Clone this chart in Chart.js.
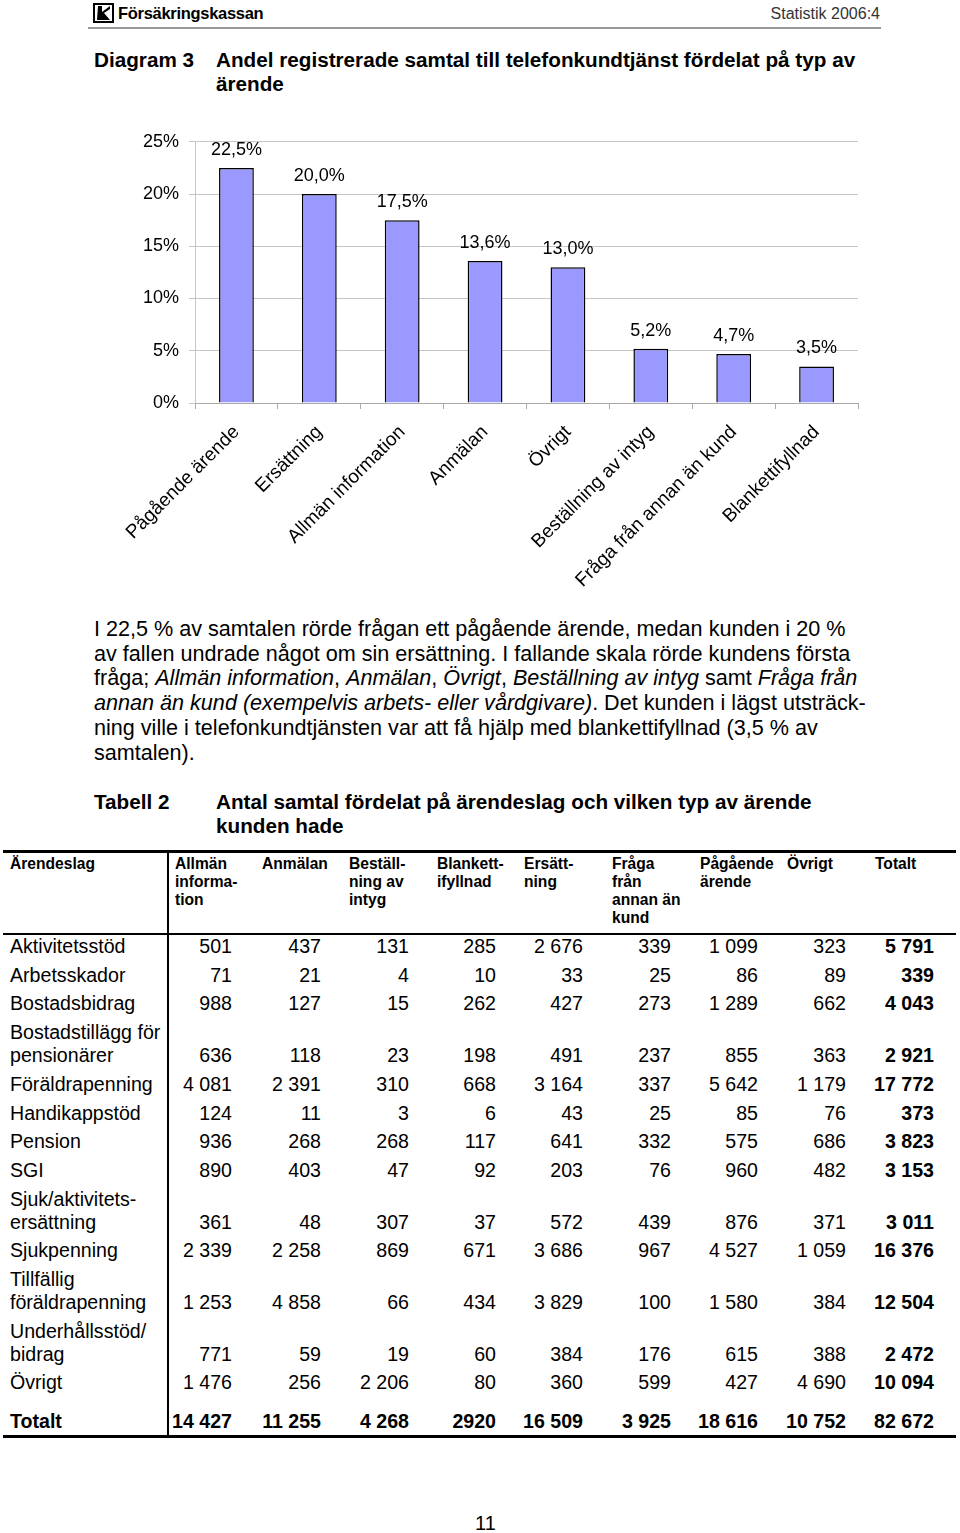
<!DOCTYPE html>
<html lang="sv">
<head>
<meta charset="utf-8">
<script src="https://cdn.jsdelivr.net/npm/chart.js@4.4.1/dist/chart.umd.min.js"></script>
<style>
  html, body { margin: 0; padding: 0; background: #fff; }
  body { width: 960px; height: 1533px; position: relative; overflow: hidden;
         font-family: "Liberation Sans", Arial, sans-serif; color: #000; }
  .abs { position: absolute; white-space: nowrap; }
  .hdr { font-weight: bold; font-size: 20.7px; line-height: 24px; }
  .para { position: absolute; left: 94px; top: 617px; font-size: 21.6px; line-height: 24.7px; white-space: nowrap; }
  .th { position: absolute; font-weight: bold; font-size: 15.6px; line-height: 18px; white-space: pre; }
  .td { position: absolute; font-size: 19.6px; line-height: 22px; white-space: nowrap; }
  .rule { position: absolute; background: #000; }
  #chartBox { position: absolute; left: 120px; top: 121px; width: 760px; height: 479px; }
</style>
</head>
<body>

<!-- page header -->
<svg class="abs" style="left:93px;top:3px" width="21" height="20" viewBox="0 0 21 20">
  <rect x="1" y="1" width="19" height="18" fill="#fff" stroke="#000" stroke-width="2"/>
  <path d="M5 3 L9 3 L9 9 L17 3 L17 6 L11 10 L17 17 L4 17 Z" fill="#000"/>
</svg>
<div class="abs" style="left:118px;top:4px;font-size:16.5px;font-weight:bold;letter-spacing:-0.3px">Försäkringskassan</div>
<div class="abs" style="right:80px;top:5px;font-size:16px;color:#333">Statistik 2006:4</div>
<div class="rule" style="left:88px;top:27px;width:793px;height:2px;background:#999"></div>

<div class="abs hdr" style="left:94px;top:48px">Diagram 3</div>
<div class="abs hdr" style="left:216px;top:48px">Andel registrerade samtal till telefonkundtjänst fördelat på typ av<br>ärende</div>

<div id="chartBox"><canvas id="chart"></canvas></div>

<div class="para">I 22,5 % av samtalen rörde frågan ett pågående ärende, medan kunden i 20 %<br>av fallen undrade något om sin ersättning. I fallande skala rörde kundens första<br>fråga; <i>Allmän information</i>, <i>Anmälan</i>, <i>Övrigt</i>, <i>Beställning av intyg</i> samt <i>Fråga från</i><br><i>annan än kund (exempelvis arbets- eller vårdgivare)</i>. Det kunden i lägst utsträck-<br>ning ville i telefonkundtjänsten var att få hjälp med blankettifyllnad (3,5 % av<br>samtalen).</div>

<div class="abs hdr" style="left:94px;top:790px">Tabell 2</div>
<div class="abs hdr" style="left:216px;top:790px">Antal samtal fördelat på ärendeslag och vilken typ av ärende<br>kunden hade</div>

<div id="table"></div>

<div class="abs" style="left:475px;top:1512px;font-size:20px">11</div>

<script>
// chart data
const categories = [
  "Pågående ärende",
  "Ersättning",
  "Allmän information",
  "Anmälan",
  "Övrigt",
  "Beställning av intyg",
  "Fråga från annan än kund",
  "Blankettifyllnad"
];
const shares = [22.5, 20.0, 17.5, 13.6, 13.0, 5.2, 4.7, 3.5];
const yTicks = [0, 5, 10, 15, 20, 25];

// table data
const tableHeads = [
  "Allmän\ninforma-\ntion", "Anmälan", "Beställ-\nning av\nintyg", "Blankett-\nifyllnad",
  "Ersätt-\nning", "Fråga\nfrån\nannan än\nkund", "Pågående\närende", "Övrigt", "Totalt"
];
const rowLabels = [
  "Aktivitetsstöd", "Arbetsskador", "Bostadsbidrag", "Bostadstillägg för\npensionärer",
  "Föräldrapenning", "Handikappstöd", "Pension", "SGI", "Sjuk/aktivitets-\nersättning",
  "Sjukpenning", "Tillfällig\nföräldrapenning", "Underhållsstöd/\nbidrag", "Övrigt"
];
const rowValues = [
  ["501", "437", "131", "285", "2 676", "339", "1 099", "323", "5 791"],
  ["71", "21", "4", "10", "33", "25", "86", "89", "339"],
  ["988", "127", "15", "262", "427", "273", "1 289", "662", "4 043"],
  ["636", "118", "23", "198", "491", "237", "855", "363", "2 921"],
  ["4 081", "2 391", "310", "668", "3 164", "337", "5 642", "1 179", "17 772"],
  ["124", "11", "3", "6", "43", "25", "85", "76", "373"],
  ["936", "268", "268", "117", "641", "332", "575", "686", "3 823"],
  ["890", "403", "47", "92", "203", "76", "960", "482", "3 153"],
  ["361", "48", "307", "37", "572", "439", "876", "371", "3 011"],
  ["2 339", "2 258", "869", "671", "3 686", "967", "4 527", "1 059", "16 376"],
  ["1 253", "4 858", "66", "434", "3 829", "100", "1 580", "384", "12 504"],
  ["771", "59", "19", "60", "384", "176", "615", "388", "2 472"],
  ["1 476", "256", "2 206", "80", "360", "599", "427", "4 690", "10 094"]
];
const totalValues = ["14 427", "11 255", "4 268", "2920", "16 509", "3 925", "18 616", "10 752", "82 672"];

// ---- table ----
const headLeft = [175, 262, 349, 437, 524, 612, 700, 787, 875];
const colRight = [232, 321, 409, 496, 583, 671, 758, 846, 934];
const table = document.getElementById("table");

function addDiv(cls, text, style) {
  const d = document.createElement("div");
  d.className = cls;
  d.textContent = text;
  Object.assign(d.style, style);
  table.appendChild(d);
  return d;
}

function addRule(x, y, w, h) {
  addDiv("rule", "", { left: x + "px", top: y + "px", width: w + "px", height: h + "px" });
}

addRule(3, 850, 953, 3);
addRule(3, 933, 953, 2);
addRule(3, 1435, 953, 3);
addRule(167, 850, 1.5, 588);

addDiv("th", "Ärendeslag", { left: "10px", top: "855px" });
tableHeads.forEach((h, i) => addDiv("th", h, { left: headLeft[i] + "px", top: "855px" }));

let y = 946;
rowLabels.forEach((label, r) => {
  const lines = label.split("\n");
  lines.forEach((ln, k) => addDiv("td", ln, { left: "10px", top: (y + k * 23 - 11) + "px" }));
  const vy = y + (lines.length - 1) * 23;
  rowValues[r].forEach((v, c) => {
    const st = { right: (960 - colRight[c]) + "px", top: (vy - 11) + "px" };
    if (c === 8) st.fontWeight = "bold";
    addDiv("td", v, st);
  });
  y = vy + 28.7;
});
addDiv("td", "Totalt", { left: "10px", top: "1410px", fontWeight: "bold" });
totalValues.forEach((v, c) => {
  addDiv("td", v, { right: (960 - colRight[c]) + "px", top: "1410px", fontWeight: "bold" });
});

// ---- chart ----
const valueLabels = {
  id: "valueLabels",
  afterDatasetsDraw(chart) {
    const ctx = chart.ctx;
    const meta = chart.getDatasetMeta(0);
    ctx.save();
    ctx.font = '18px "Liberation Sans", Arial, sans-serif';
    ctx.fillStyle = "#000";
    ctx.textAlign = "center";
    ctx.textBaseline = "middle";
    meta.data.forEach((bar, i) => {
      ctx.fillText(shares[i].toFixed(1).replace(".", ",") + "%", bar.x, bar.y - 18);
    });
    ctx.restore();
  }
};

new Chart(document.getElementById("chart"), {
  type: "bar",
  data: {
    labels: categories,
    datasets: [{
      data: shares,
      backgroundColor: "#9999FF",
      borderColor: "#000",
      borderWidth: 1.5,
      barPercentage: 0.84,
      categoryPercentage: 0.5
    }]
  },
  options: {
    responsive: true,
    maintainAspectRatio: false,
    animation: false,
    layout: { padding: { left: 0, right: 22, top: 12, bottom: 0 } },
    plugins: {
      legend: { display: false },
      tooltip: { enabled: false }
    },
    scales: {
      x: {
        afterFit: scale => {
          scale.height = 197;
          scale.paddingLeft = 0;
          scale.paddingRight = 0;
        },
        grid: { display: true, drawOnChartArea: false, tickLength: 6, color: "#aaa" },
        border: { display: true, color: "#aaa" },
        ticks: {
          maxRotation: 45,
          minRotation: 45,
          padding: 12,
          color: "#000",
          font: { family: "Liberation Sans", size: 19 }
        }
      },
      y: {
        min: 0,
        max: 25,
        afterFit: scale => { scale.width = 75; },
        afterBuildTicks: scale => { scale.ticks = yTicks.map(v => ({ value: v })); },
        grid: { color: "#c6c6c6", tickLength: 6 },
        border: { display: true, color: "#c6c6c6" },
        ticks: {
          padding: 10,
          color: "#000",
          font: { family: "Liberation Sans", size: 18 },
          callback: v => v + "%"
        }
      }
    }
  },
  plugins: [valueLabels]
});
</script>
</body>
</html>
